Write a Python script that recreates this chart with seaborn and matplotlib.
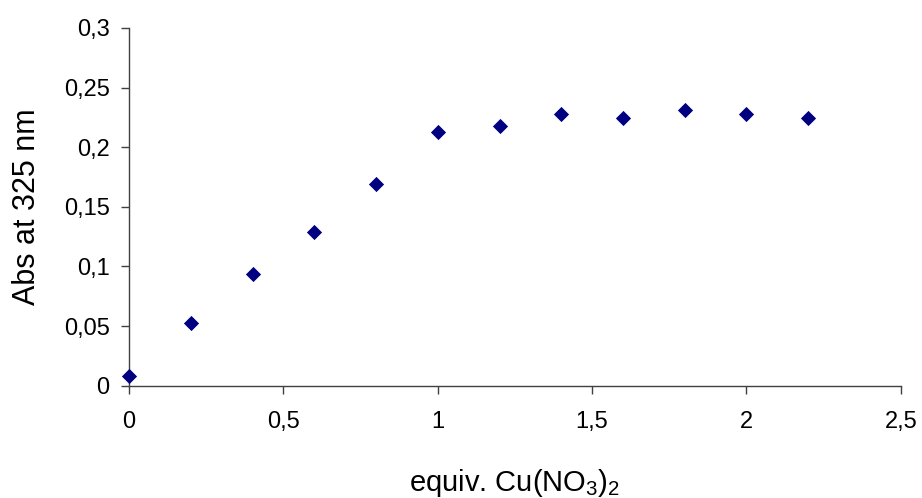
import matplotlib
matplotlib.use("Agg")
import matplotlib.pyplot as plt
import seaborn as sns
import pandas as pd
from matplotlib.ticker import FuncFormatter, MultipleLocator

equiv = [0.0, 0.2, 0.4, 0.6, 0.8, 1.0, 1.2, 1.4, 1.6, 1.8, 2.0, 2.2]
absorb = [0.008, 0.053, 0.094, 0.129, 0.169, 0.213, 0.218, 0.228, 0.2245, 0.231, 0.228, 0.2245]

sns.set_style("white")
plt.rcParams['font.family'] = ['Liberation Sans', 'DejaVu Sans']
plt.rcParams['mathtext.fontset'] = 'custom'
plt.rcParams['mathtext.rm'] = 'Liberation Sans'

df = pd.DataFrame({"x": equiv, "y": absorb})
fig = plt.figure(figsize=(9.22, 4.98), dpi=100)
ax = fig.add_axes([0.14, 0.2255, 0.837, 0.7183])
sns.scatterplot(data=df, x="x", y="y", ax=ax, marker="D", color="#000080",
                s=60, edgecolor="#000080", linewidth=0, zorder=3, clip_on=False)
ax.set_xlim(0, 2.5)
ax.set_ylim(0, 0.3)
ax.xaxis.set_major_locator(MultipleLocator(0.5))
ax.yaxis.set_major_locator(MultipleLocator(0.05))

def fmt(v, pos):
    s = ("%.2f" % v).rstrip("0").rstrip(".")
    return s.replace(".", ",")

ax.xaxis.set_major_formatter(FuncFormatter(fmt))
ax.yaxis.set_major_formatter(FuncFormatter(fmt))
for side in ["top", "right"]:
    ax.spines[side].set_visible(False)
for side in ["left", "bottom"]:
    ax.spines[side].set_color("#404040")
    ax.spines[side].set_linewidth(1.0)
ax.tick_params(axis="both", direction="out", length=6, width=1.0, color="#404040",
               labelsize=17, labelcolor="black")
ax.tick_params(axis="x", pad=12, bottom=True)
ax.tick_params(axis="y", pad=8, left=True)
ax.set_xlabel(r"equiv. Cu(NO$_3$)$_2$", fontsize=21, labelpad=25, color="black")
ax.set_ylabel("Abs at 325 nm", fontsize=22, labelpad=16, color="black")
fig.savefig("out.png", dpi=100, facecolor="white")
